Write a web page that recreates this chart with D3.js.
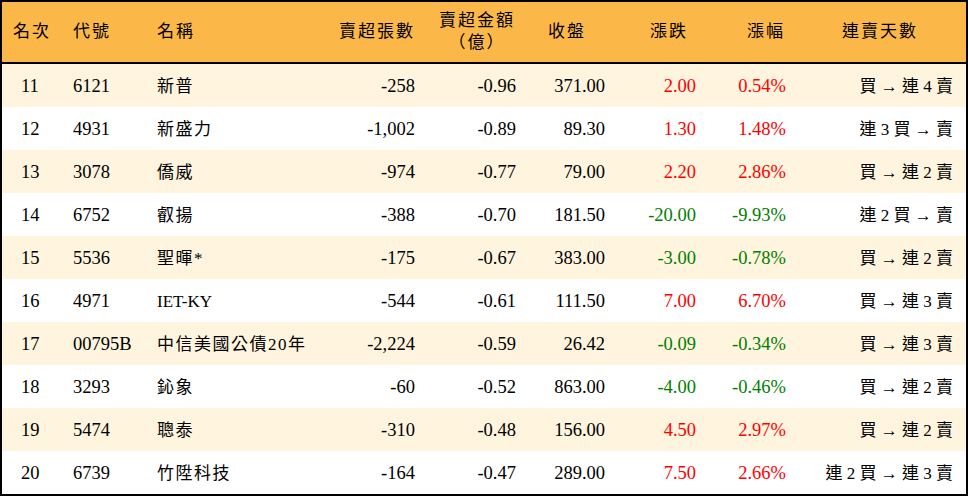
<!DOCTYPE html>
<html><head><meta charset="utf-8">
<script src="https://cdn.jsdelivr.net/npm/d3@7"></script>
<style>body{margin:0;background:#fff}</style></head>
<body><svg id="c" width="968" height="496"></svg>
<script>
const ranks=[11,12,13,14,15,16,17,18,19,20];
const codes=["6121","4931","3078","6752","5536","4971","00795B","3293","5474","6739"];
const names=["新普","新盛力","僑威","叡揚","聖暉*","IET-KY","中信美國公債20年","鈊象","聰泰","竹陞科技"];
const shares=["-258","-1,002","-974","-388","-175","-544","-2,224","-60","-310","-164"];
const amounts=["-0.96","-0.89","-0.77","-0.70","-0.67","-0.61","-0.59","-0.52","-0.48","-0.47"];
const closes=["371.00","89.30","79.00","181.50","383.00","111.50","26.42","863.00","156.00","289.00"];
const changes=[2.00,1.30,2.20,-20.00,-3.00,7.00,-0.09,-4.00,4.50,7.50];
const pcts=[0.54,1.48,2.86,-9.93,-0.78,6.70,-0.34,-0.46,2.97,2.66];
const streaks=["買 → 連 4 賣","連 3 買 → 賣","買 → 連 2 賣","連 2 買 → 賣","買 → 連 2 賣","買 → 連 3 賣","買 → 連 3 賣","買 → 連 2 賣","買 → 連 2 賣","連 2 買 → 連 3 賣"];
const headers=["名次","代號","名稱","賣超張數","賣超金額","收盤","漲跌","漲幅","連賣天數"];

const svg=d3.select("#c");
const font="'Liberation Serif','Noto Sans CJK TC',serif";
const y=d3.scaleBand().domain(d3.range(10)).range([64,494]);
svg.append("rect").attr("x",0).attr("y",0).attr("width",968).attr("height",63).attr("fill","#FBB848");
svg.selectAll(".rb").data(d3.range(10)).join("rect").attr("x",0).attr("y",i=>y(i)).attr("width",968).attr("height",y.bandwidth()).attr("fill",i=>i%2==0?"#FFF4DE":"#fff");
svg.append("line").attr("x1",0).attr("x2",968).attr("y1",63).attr("y2",63).attr("stroke","#000").attr("stroke-width",2);
svg.append("rect").attr("x",1).attr("y",1).attr("width",966).attr("height",494).attr("fill","none").attr("stroke","#000").attr("stroke-width",2);

const hx=[[13,"start"],[73,"start"],[157,"start"],[415,"end"],[477,"middle"],[567,"middle"],[669,"middle"],[766,"middle"],[880,"middle"]];
const hg=svg.append("g").attr("font-family",font).attr("font-size",17).attr("fill","#000").attr("letter-spacing",2);
headers.forEach((h,i)=>{
  if(i==4){
    hg.append("text").attr("x",477).attr("y",26).attr("text-anchor","middle").text(h);
    hg.append("text").attr("x",477).attr("y",48).attr("text-anchor","middle").text("（億）");
  } else hg.append("text").attr("x",hx[i][0]).attr("y",37).attr("text-anchor",hx[i][1]).text(h);
});
const red="#FF0000",green="#008000";
const cols=[
 {x:21,a:"start",v:ranks.map(String)},
 {x:73,a:"start",v:codes},
 {x:157,a:"start",v:names,ls:1.5},
 {x:415,a:"end",v:shares},
 {x:516,a:"end",v:amounts},
 {x:605,a:"end",v:closes},
 {x:696,a:"end",v:changes.map(d=>d.toFixed(2)),c:changes},
 {x:786,a:"end",v:pcts.map(d=>d.toFixed(2)+"%"),c:pcts},
 {x:953,a:"end",v:streaks}
];
const bg=svg.append("g").attr("font-family",font).attr("font-size",18.5);
cols.forEach(col=>{
  bg.selectAll(null).data(col.v).join("text").attr("x",col.x).attr("y",(d,i)=>y(i)+y.bandwidth()/2+6)
   .attr("text-anchor",col.a).attr("letter-spacing",(d)=>col.ls&&/[\u4e00-\u9fff]/.test(d)?col.ls:0)
   .attr("font-size",col.v===streaks||col.v===names?17:null)
   .attr("fill",(d,i)=>col.c?(col.c[i]<0?green:red):"#000").text(d=>d);
});
</script></body></html>
